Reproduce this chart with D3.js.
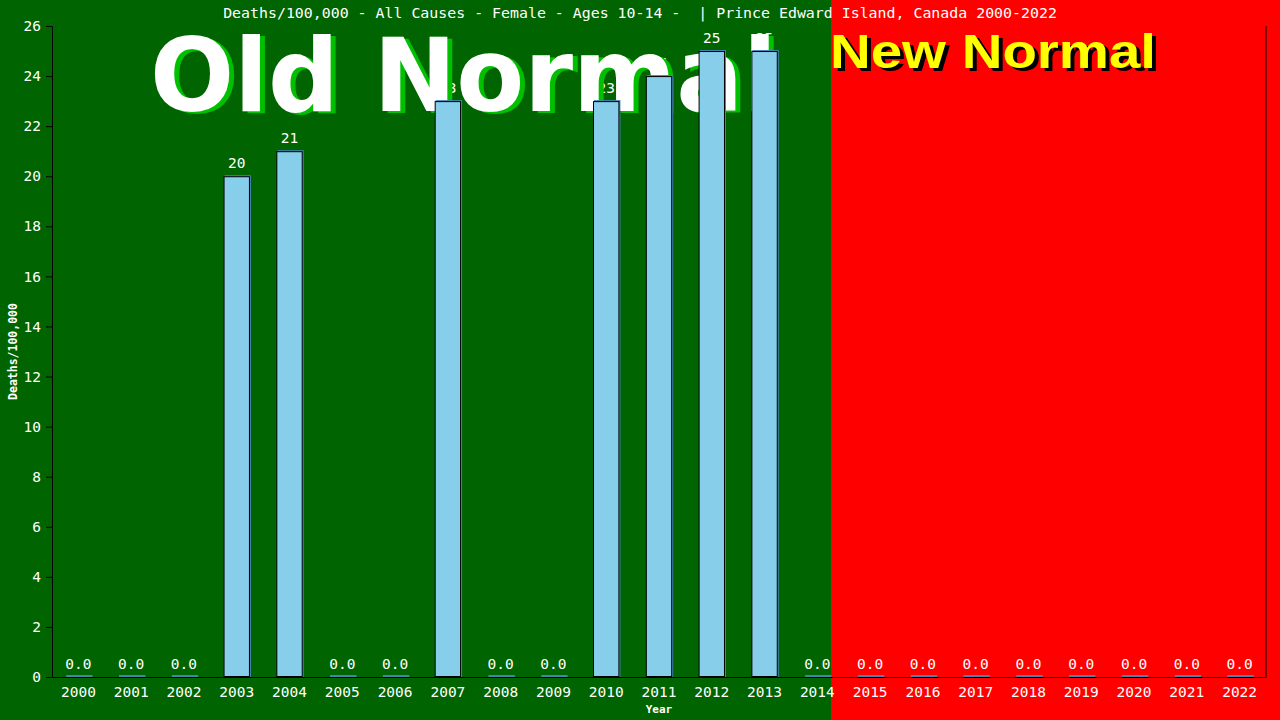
<!DOCTYPE html>
<html>
<head>
<meta charset="utf-8">
<script src="https://cdn.jsdelivr.net/npm/d3@7"></script>
<style>
  body { margin: 0; background: #006400; }
  text { font-family: "DejaVu Sans Mono", monospace; }
</style>
</head>
<body>
<div id="chart"></div>
<script>
// data
const years = ["2000", "2001", "2002", "2003", "2004", "2005", "2006", "2007", "2008", "2009", "2010", "2011",
    "2012", "2013", "2014", "2015", "2016", "2017", "2018", "2019", "2020", "2021", "2022"];
const deaths = [0, 0, 0, 20, 21, 0, 0, 23, 0, 0, 23, 24, 25, 25, 0, 0, 0, 0, 0, 0, 0, 0, 0];
const yTicks = [0, 2, 4, 6, 8, 10, 12, 14, 16, 18, 20, 22, 24, 26];
const title = "Deaths/100,000 - All Causes - Female - Ages 10-14 -  | Prince Edward Island, Canada 2000-2022";
const newNormalFrom = "2015";

const width = 1280, height = 720;
const margin = {top: 26, right: 14, bottom: 43, left: 52};

const svg = d3.select("#chart")
    .append("svg")
    .attr("width", width)
    .attr("height", height);

const x = d3.scaleBand()
    .domain(years)
    .range([margin.left, width - margin.right])
    .paddingInner(0.5)
    .paddingOuter(0.25);

const y = d3.scaleLinear()
    .domain([0, 26])
    .range([height - margin.bottom, margin.top]);

// backgrounds
const redStart = x(newNormalFrom) - x.step() * x.paddingInner() + 0.5;
svg.append("rect")
    .attr("x", 0).attr("y", 0)
    .attr("width", width).attr("height", height)
    .attr("fill", "#006400");
svg.append("rect")
    .attr("x", redStart).attr("y", 0)
    .attr("width", width - redStart).attr("height", height)
    .attr("fill", "#ff0000");

// value labels (sit under the big text)
svg.append("g")
    .selectAll("text")
    .data(deaths)
    .join("text")
    .attr("x", (d, i) => x(years[i]) + x.bandwidth() / 2)
    .attr("y", d => y(d) - 8)
    .attr("text-anchor", "middle")
    .attr("fill", "white")
    .style("font-size", "14.5px")
    .text(d => d === 0 ? "0.0" : d3.format("d")(d));

// big labels
function bigText(str, font, tx, ty, size, len, fill, shadow, dx, dy) {
    const g = svg.append("g");
    [[dx, dy, shadow], [0, 0, fill]].forEach(s => {
        g.append("text")
            .attr("x", tx + s[0]).attr("y", ty + s[1])
            .attr("fill", s[2])
            .attr("textLength", len)
            .attr("lengthAdjust", "spacingAndGlyphs")
            .style("font-family", font)
            .style("font-weight", "bold")
            .style("font-size", size + "px")
            .text(str);
    });
}
bigText("Old Normal", "'DejaVu Sans', sans-serif", 150, 111, 101, 627, "white", "#00c000", 5, 2);
bigText("New Normal", "'Liberation Sans', Arial, sans-serif", 830, 68, 49, 326, "#ffff00", "black", 4, 3);

// bars
const bars = svg.append("g");
bars.selectAll("rect.shadow")
    .data(deaths)
    .join("rect")
    .attr("class", "shadow")
    .attr("x", (d, i) => x(years[i]) + 1)
    .attr("y", d => d === 0 ? y(0) - 2 : y(d) - 1)
    .attr("width", x.bandwidth())
    .attr("height", d => d === 0 ? 2 : y(0) - y(d) + 1)
    .attr("fill", "#4682b4");
bars.selectAll("rect.bar")
    .data(deaths.map((d, i) => ({v: d, year: years[i]})).filter(d => d.v > 0))
    .join("rect")
    .attr("class", "bar")
    .attr("x", d => x(d.year) + 0.5)
    .attr("y", d => y(d.v) + 0.5)
    .attr("width", x.bandwidth() - 1)
    .attr("height", d => y(0) - y(d.v) - 1)
    .attr("fill", "#87ceeb")
    .attr("stroke", "black")
    .attr("stroke-width", 1);

// axes
const yAxis = svg.append("g")
    .attr("transform", `translate(${margin.left},0)`)
    .call(d3.axisLeft(y).tickValues(yTicks).tickSize(6).tickSizeOuter(0));
const xAxis = svg.append("g")
    .attr("transform", `translate(0,${height - margin.bottom})`)
    .call(d3.axisBottom(x).tickSize(0).tickSizeOuter(0));
[yAxis, xAxis].forEach(a => {
    a.select(".domain").attr("stroke", "black");
    a.selectAll("line").attr("stroke", "black");
    a.selectAll("text")
        .attr("fill", "white")
        .style("font-family", "'DejaVu Sans Mono', monospace")
        .style("font-size", "14.5px");
});
yAxis.selectAll("text").attr("x", -11);
xAxis.selectAll("text").attr("dy", "1.2em");

// right border
svg.append("line")
    .attr("x1", width - margin.right).attr("x2", width - margin.right)
    .attr("y1", margin.top).attr("y2", height - margin.bottom)
    .attr("stroke", "black");

// titles
svg.append("text")
    .attr("x", 640).attr("y", 18)
    .attr("text-anchor", "middle")
    .attr("fill", "white")
    .style("font-size", "14.9px")
    .style("white-space", "pre")
    .text(title);
svg.append("text")
    .attr("x", (margin.left + width - margin.right) / 2).attr("y", 713)
    .attr("text-anchor", "middle")
    .attr("fill", "white")
    .style("font-size", "11px")
    .style("font-weight", "bold")
    .text("Year");
svg.append("text")
    .attr("transform", `translate(17,${(margin.top + height - margin.bottom) / 2}) rotate(-90)`)
    .attr("text-anchor", "middle")
    .attr("fill", "white")
    .style("font-size", "11.5px")
    .style("font-weight", "bold")
    .text("Deaths/100,000");
</script>
</body>
</html>
